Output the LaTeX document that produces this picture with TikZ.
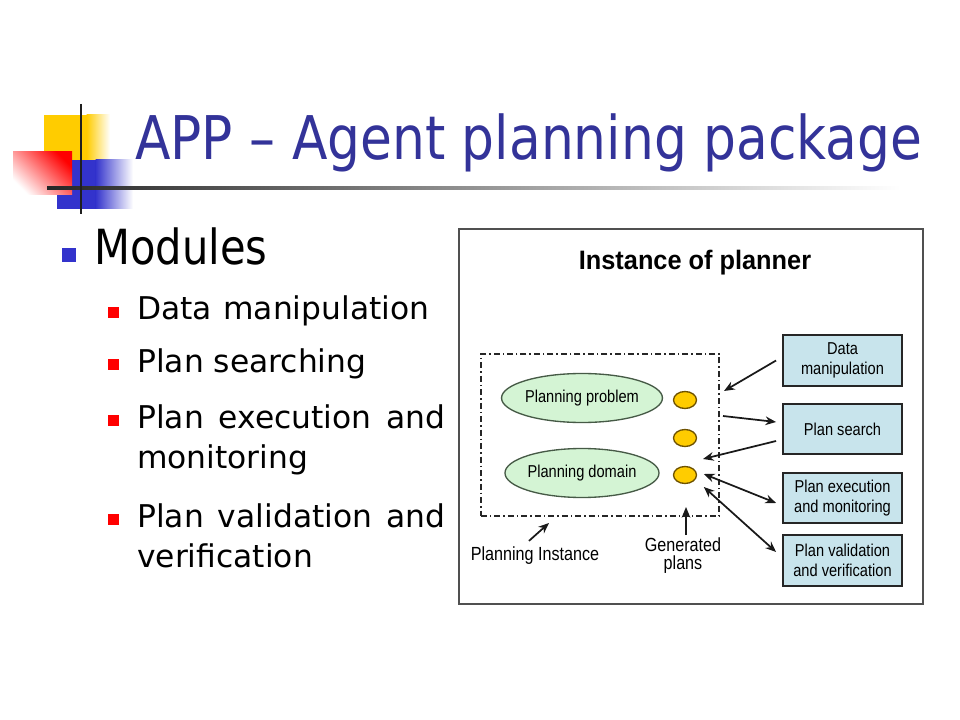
\documentclass[tikz,border=0pt]{standalone}
\usepackage{fontspec}
\setmainfont{DejaVu Sans}
\newfontfamily\slidecond[FakeStretch=0.86]{DejaVu Sans}
\newfontfamily\diagfont[FakeStretch=0.85]{Liberation Sans}
\newfontfamily\diagtitlefont[FakeStretch=0.95]{Liberation Sans}
\usetikzlibrary{arrows.meta,shapes.geometric}
\definecolor{titleblue}{RGB}{51,51,153}
\definecolor{bulletblue}{RGB}{51,51,204}
\definecolor{logoyellow}{RGB}{255,204,0}
\definecolor{logoblue}{RGB}{51,51,204}
\definecolor{framegray}{RGB}{80,80,80}
\definecolor{boxfill}{RGB}{200,228,236}
\definecolor{ellfill}{RGB}{212,244,212}
\definecolor{ellborder}{RGB}{70,90,70}
\definecolor{planfill}{RGB}{255,204,0}
\definecolor{planborder}{RGB}{110,82,0}
\tikzset{
  subitem/.style={anchor=base west, inner sep=0pt, font=\fontsize{23.5}{28}\selectfont},
  modbox/.style={draw=black!85, line width=1.4pt, fill=boxfill, minimum width=89.25pt,
    minimum height=38pt, inner sep=0pt, align=center, font=\diagfont\fontsize{12.9}{15}\selectfont},
  goalell/.style={ellipse, draw=ellborder, line width=1pt, fill=ellfill, minimum width=113.25pt,
    minimum height=36.75pt, inner sep=0pt, font=\diagfont\fontsize{12.9}{15}\selectfont},
  plandot/.style={ellipse, draw=planborder, line width=1pt, fill=planfill, minimum width=17.25pt,
    minimum height=12.75pt, inner sep=0pt},
  dashdotbox/.style={draw=black!85, line width=1.1pt, dash pattern=on 4.5pt off 2.25pt on 1.1pt off 2.25pt},
  arr/.style={draw=black!90, line width=1.3pt, -{Stealth[length=8pt,width=6.5pt]}},
  darr/.style={draw=black!90, line width=1.3pt, {Stealth[length=8pt,width=6.5pt]}-{Stealth[length=8pt,width=6.5pt]}},
  outlabel/.style={inner sep=0pt, font=\diagfont\fontsize{14.25}{15}\selectfont, align=center}
}
\begin{document}
\begin{tikzpicture}[x=0.75pt,y=-0.75pt]
\useasboundingbox (0,0) rectangle (960,720);
\fill[white] (0,0) rectangle (960,720);

% logo
\fill[logoyellow] (44,115) rectangle (87,160);
\shade[left color=logoyellow, right color=white] (86.5,115) rectangle (110,160);
\fill[logoblue] (57,160) rectangle (96,209);
\shade[left color=logoblue, right color=white] (95.5,160) rectangle (133,209);
\shade[top color=red, bottom color=white, shading angle=-45] (13,152) rectangle (72,195);
\shade[left color=black!85, right color=white] (47,186.5) rectangle (900,189.5);
\draw[line width=2pt, black!88] (81,104) -- (81,214);

% title
\node[anchor=base west, inner sep=0pt, text=titleblue, font=\slidecond\fontsize{45.2}{50}\selectfont] (title) at (135,160) {APP – Agent planning package};

% bullets
\fill[bulletblue] (61.5,248) rectangle (75.5,262);
\node[anchor=base west, inner sep=0pt, font=\slidecond\fontsize{36.3}{40}\selectfont] (modules) at (94,265) {Modules};

\fill[red] (108,307) rectangle (119,318);
\node[subitem] (i1) at (137,320) {\makebox[219pt][s]{Data manipulation}};
\fill[red] (108,359) rectangle (119,370);
\node[subitem] (i2) at (137,372) {Plan searching};
\fill[red] (108,415) rectangle (119,426);
\node[subitem] (i3) at (137,428) {\makebox[231pt][s]{Plan execution and}};
\node[subitem] (i3b) at (137,468) {monitoring};
\fill[red] (108,514) rectangle (119,525);
\node[subitem] (i4) at (137,527) {\makebox[231pt][s]{Plan validation and}};
\node[subitem] (i4b) at (137,567) {verification};

% diagram frame
\draw[framegray, line width=1.5pt] (459,229) rectangle (923,604);
\node[font=\diagtitlefont\bfseries\fontsize{20}{24}\selectfont, inner sep=0pt] (dtitle) at (695,263) {Instance of planner};

\node[dashdotbox, minimum width=178.5pt, minimum height=121.5pt, inner sep=0pt] (inst) at (600,435) {};

\node[goalell] (prob) at (582,398) {Planning problem};
\node[goalell] (dom) at (582,473) {Planning domain};

\node[plandot] (g1) at (685,400) {};
\node[plandot] (g2) at (685,438) {};
\node[plandot] (g3) at (685,475) {};

\node[modbox] (dm) at (842.5,360.5) {Data\\manipulation};
\node[modbox] (ps) at (842.5,429) {Plan search};
\node[modbox] (pe) at (842.5,498) {Plan execution\\and monitoring};
\node[modbox] (pv) at (842.5,560.5) {Plan validation\\and verification};

\node[outlabel] (pinst) at (535,556) {Planning Instance};
\node[outlabel, anchor=north] (gen) at (683,537) {Generated\\[-1pt]plans};

\coordinate (c1) at (724,391);
\coordinate (c2) at (723,416);
\coordinate (c3) at (703,459);
\coordinate (c6) at (686,507);
\coordinate (c7) at (549,523);

\draw[arr] ([xshift=-4.5pt]dm.west) -- (c1);
\draw[arr] (c2) -- ([xshift=-4.5pt,yshift=5.25pt]ps.west);
\draw[arr] ([xshift=-4.5pt,yshift=-9pt]ps.west) -- (c3);
\draw[darr] ([xshift=5pt,yshift=0.75pt]g3.east) -- ([xshift=-4.5pt,yshift=-3.75pt]pe.west);
\draw[darr] ([xshift=5pt,yshift=-9pt]g3.east) -- ([xshift=-4.5pt,yshift=6.4pt]pv.west);
\draw[arr] ([yshift=1.5pt]gen.north -| c6) -- (c6);
\draw[arr] ([shift={(-4.5pt,4.5pt)}]pinst.north) -- (c7);
\end{tikzpicture}
\end{document}
